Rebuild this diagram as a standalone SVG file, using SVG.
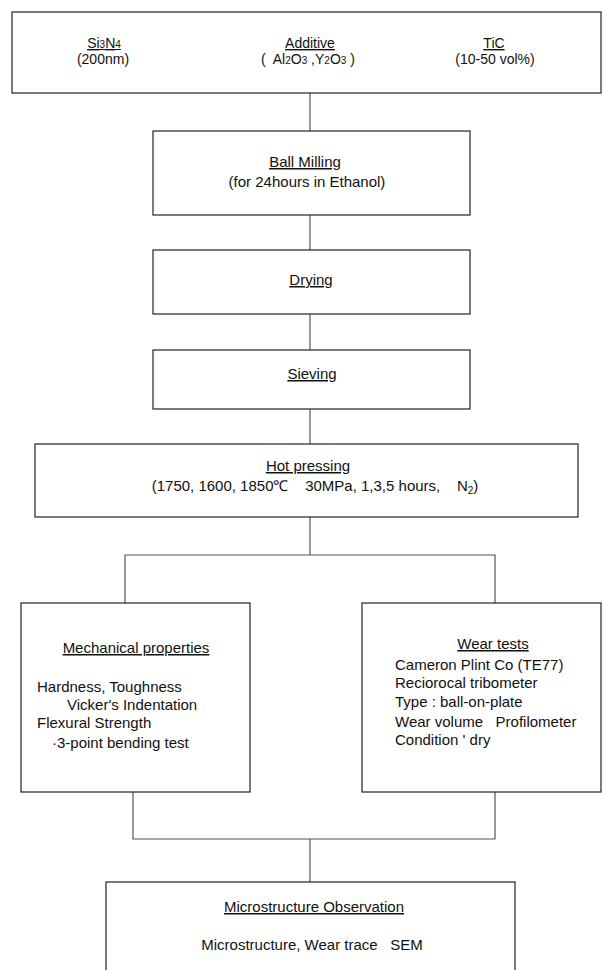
<svg xmlns="http://www.w3.org/2000/svg" width="603" height="970" viewBox="0 0 603 970">
<style>
.box{fill:#fff;stroke:#222;stroke-width:1.2}
.con{stroke:#555;stroke-width:1.2;fill:none}
text{font-family:"Liberation Sans",Arial,sans-serif;font-size:15px;fill:#111}
.top{font-size:14px}
.c{text-anchor:middle}
.u{text-decoration:underline}
.sub{font-size:10px}
</style>
<rect width="603" height="970" fill="#fff"/>
<g id="connectors">
<line class="con" x1="310" y1="93" x2="310" y2="131"/>
<line class="con" x1="310" y1="215" x2="310" y2="250"/>
<line class="con" x1="310" y1="314" x2="310" y2="350"/>
<line class="con" x1="310" y1="409" x2="310" y2="444"/>
<polyline class="con" points="310,517 310,555"/>
<polyline class="con" points="125,603 125,555 495,555 495,603"/>
<polyline class="con" points="133,792 133,839 495,839 495,792"/>
<line class="con" x1="310" y1="839" x2="310" y2="882"/>
</g>
<g id="raw">
<rect class="box" x="12" y="12" width="589" height="81"/>
<text class="top c u" x="104" y="48">Si<tspan class="sub">3</tspan>N<tspan class="sub">4</tspan></text>
<text class="top c" x="103" y="64">(200nm)</text>
<text class="top c u" x="310" y="48">Additive</text>
<text class="top c" x="308" y="64" xml:space="preserve">(  Al<tspan class="sub">2</tspan>O<tspan class="sub">3</tspan> ,Y<tspan class="sub">2</tspan>O<tspan class="sub">3</tspan> )</text>
<text class="top c u" x="494" y="48">TiC</text>
<text class="top c" x="495" y="64">(10-50 vol%)</text>
</g>
<g id="ballmilling">
<rect class="box" x="153" y="131" width="317" height="84"/>
<text class="c u" x="305" y="167">Ball Milling</text>
<text class="c" x="307" y="187">(for 24hours in Ethanol)</text>
</g>
<g id="drying">
<rect class="box" x="153" y="250" width="317" height="64"/>
<text class="c u" x="311" y="285">Drying</text>
</g>
<g id="sieving">
<rect class="box" x="153" y="350" width="317" height="59"/>
<text class="c u" x="312" y="379">Sieving</text>
</g>
<g id="hotpressing">
<rect class="box" x="35" y="444" width="543" height="73"/>
<text class="c u" x="308" y="471">Hot pressing</text>
<text class="c" x="315" y="491" xml:space="preserve">(1750, 1600, 1850℃    30MPa, 1,3,5 hours,    N<tspan class="sub" dy="3">2</tspan><tspan dy="-3">)</tspan></text>
</g>
<g id="mechanical">
<rect class="box" x="21" y="603" width="229" height="189"/>
<text class="c u" x="136" y="653">Mechanical properties</text>
<text x="37" y="692">Hardness, Toughness</text>
<text x="67" y="710">Vicker's Indentation</text>
<text x="37" y="728">Flexural Strength</text>
<text x="52" y="748">·3-point bending test</text>
</g>
<g id="wear">
<rect class="box" x="362" y="603" width="239" height="189"/>
<text class="c u" x="493" y="649">Wear tests</text>
<text x="395" y="670">Cameron Plint Co (TE77)</text>
<text x="395" y="688">Reciorocal tribometer</text>
<text x="395" y="707">Type : ball-on-plate</text>
<text x="395" y="727" xml:space="preserve">Wear volume   Profilometer</text>
<text x="395" y="745">Condition ' dry</text>
</g>
<g id="microstructure">
<rect class="box" x="106" y="882" width="409" height="100"/>
<text class="c u" x="314" y="912">Microstructure Observation</text>
<text class="c" x="312" y="950" xml:space="preserve">Microstructure, Wear trace   SEM</text>
</g>
</svg>
